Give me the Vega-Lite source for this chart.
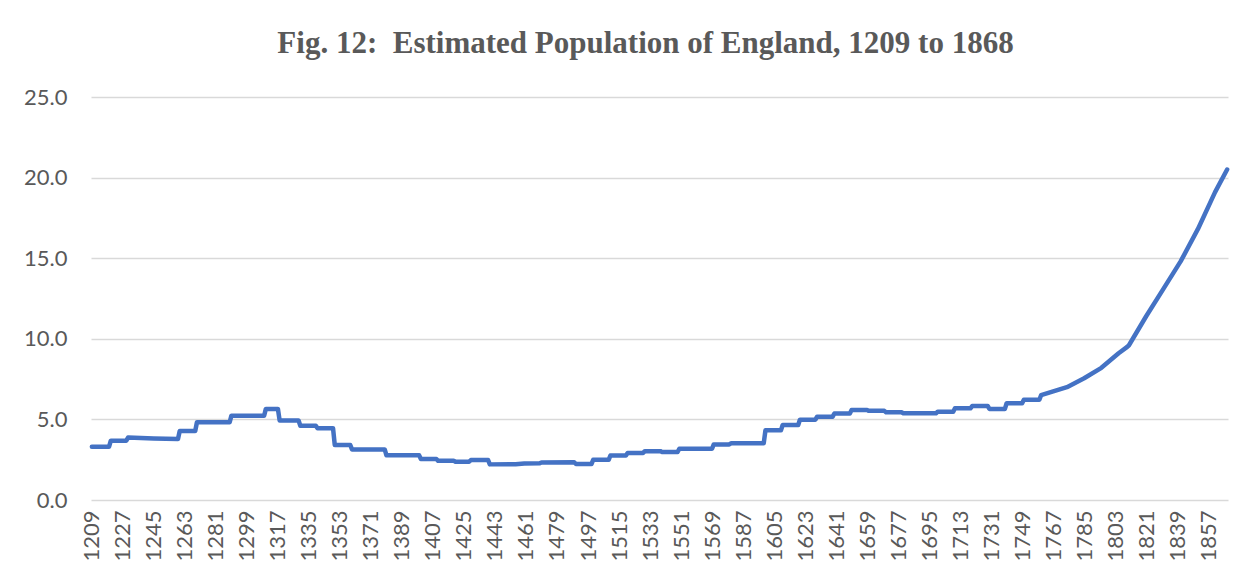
{
  "$schema": "https://vega.github.io/schema/vega-lite/v6.json",
  "autosize": {"type": "none"},
  "width": 1137,
  "height": 403,
  "padding": {"left": 91, "top": 97, "right": 29, "bottom": 80},
  "background": "white",
  "title": {
    "text": "Fig. 12:\u00a0 Estimated Population of England, 1209 to 1868",
    "font": "Liberation Serif",
    "fontSize": 31,
    "fontWeight": "bold",
    "color": "#595959",
    "anchor": "middle",
    "frame": "group",
    "dx": -14,
    "offset": 26
  },
  "config": {
    "view": {"stroke": null},
    "axis": {"labelFont": "Lato", "labelColor": "#595959"}
  },
  "data": {
    "values": [
      {"year": 1209, "pop": 3.31}, {"year": 1219, "pop": 3.31},
      {"year": 1220, "pop": 3.68}, {"year": 1229, "pop": 3.68},
      {"year": 1230, "pop": 3.87}, {"year": 1245, "pop": 3.82}, {"year": 1259, "pop": 3.78},
      {"year": 1260, "pop": 4.28}, {"year": 1269, "pop": 4.28},
      {"year": 1270, "pop": 4.82}, {"year": 1289, "pop": 4.82},
      {"year": 1290, "pop": 5.23}, {"year": 1309, "pop": 5.23},
      {"year": 1310, "pop": 5.65}, {"year": 1317, "pop": 5.65},
      {"year": 1318, "pop": 4.93}, {"year": 1329, "pop": 4.93},
      {"year": 1330, "pop": 4.61}, {"year": 1339, "pop": 4.61},
      {"year": 1340, "pop": 4.45}, {"year": 1349, "pop": 4.45},
      {"year": 1350, "pop": 3.41}, {"year": 1359, "pop": 3.41},
      {"year": 1360, "pop": 3.14}, {"year": 1379, "pop": 3.14},
      {"year": 1380, "pop": 2.77}, {"year": 1399, "pop": 2.77},
      {"year": 1400, "pop": 2.54}, {"year": 1409, "pop": 2.54},
      {"year": 1410, "pop": 2.43}, {"year": 1419, "pop": 2.43},
      {"year": 1420, "pop": 2.38}, {"year": 1428, "pop": 2.38},
      {"year": 1429, "pop": 2.48}, {"year": 1439, "pop": 2.48},
      {"year": 1440, "pop": 2.21}, {"year": 1455, "pop": 2.22},
      {"year": 1460, "pop": 2.27}, {"year": 1469, "pop": 2.28},
      {"year": 1470, "pop": 2.33}, {"year": 1489, "pop": 2.34},
      {"year": 1490, "pop": 2.23}, {"year": 1499, "pop": 2.23},
      {"year": 1500, "pop": 2.49}, {"year": 1509, "pop": 2.49},
      {"year": 1510, "pop": 2.76}, {"year": 1519, "pop": 2.76},
      {"year": 1520, "pop": 2.92}, {"year": 1529, "pop": 2.92},
      {"year": 1530, "pop": 3.03}, {"year": 1539, "pop": 3.03},
      {"year": 1540, "pop": 2.98}, {"year": 1549, "pop": 2.98},
      {"year": 1550, "pop": 3.18}, {"year": 1569, "pop": 3.18},
      {"year": 1570, "pop": 3.45}, {"year": 1579, "pop": 3.45},
      {"year": 1580, "pop": 3.52}, {"year": 1599, "pop": 3.52},
      {"year": 1600, "pop": 4.32}, {"year": 1609, "pop": 4.32},
      {"year": 1610, "pop": 4.65}, {"year": 1619, "pop": 4.65},
      {"year": 1620, "pop": 4.98}, {"year": 1629, "pop": 4.98},
      {"year": 1630, "pop": 5.17}, {"year": 1639, "pop": 5.17},
      {"year": 1640, "pop": 5.37}, {"year": 1649, "pop": 5.37},
      {"year": 1650, "pop": 5.58}, {"year": 1659, "pop": 5.58},
      {"year": 1660, "pop": 5.53}, {"year": 1669, "pop": 5.53},
      {"year": 1670, "pop": 5.44}, {"year": 1679, "pop": 5.44},
      {"year": 1680, "pop": 5.38}, {"year": 1699, "pop": 5.38},
      {"year": 1700, "pop": 5.48}, {"year": 1709, "pop": 5.48},
      {"year": 1710, "pop": 5.69}, {"year": 1719, "pop": 5.69},
      {"year": 1720, "pop": 5.83}, {"year": 1729, "pop": 5.83},
      {"year": 1730, "pop": 5.65}, {"year": 1739, "pop": 5.65},
      {"year": 1740, "pop": 6.0}, {"year": 1749, "pop": 6.0},
      {"year": 1750, "pop": 6.22}, {"year": 1759, "pop": 6.22},
      {"year": 1760, "pop": 6.5}, {"year": 1775, "pop": 7.0},
      {"year": 1785, "pop": 7.55}, {"year": 1795, "pop": 8.2},
      {"year": 1805, "pop": 9.1}, {"year": 1810, "pop": 9.5},
      {"year": 1811, "pop": 9.6}, {"year": 1821, "pop": 11.4},
      {"year": 1831, "pop": 13.1}, {"year": 1841, "pop": 14.8},
      {"year": 1851, "pop": 16.8}, {"year": 1861, "pop": 19.1},
      {"year": 1868, "pop": 20.5}
    ]
  },
  "mark": {
    "type": "line",
    "color": "#4472C4",
    "strokeWidth": 4.5,
    "strokeJoin": "round",
    "strokeCap": "round"
  },
  "encoding": {
    "x": {
      "field": "year",
      "type": "quantitative",
      "scale": {"domain": [1208.5, 1868.5], "nice": false, "zero": false},
      "axis": {
        "title": null,
        "values": [1209,1227,1245,1263,1281,1299,1317,1335,1353,1371,1389,1407,1425,1443,1461,1479,1497,1515,1533,1551,1569,1587,1605,1623,1641,1659,1677,1695,1713,1731,1749,1767,1785,1803,1821,1839,1857],
        "format": "d",
        "labelAngle": -90,
        "labelFontSize": 22,
        "labelPadding": 10,
        "labelFlush": false,
        "labelOverlap": false,
        "ticks": false,
        "domain": false,
        "grid": false
      }
    },
    "y": {
      "field": "pop",
      "type": "quantitative",
      "scale": {"domain": [0, 25], "nice": false},
      "axis": {
        "title": null,
        "values": [0, 5, 10, 15, 20, 25],
        "format": ".1f",
        "labelFontSize": 22,
        "labelPadding": 24,
        "ticks": false,
        "domain": false,
        "grid": true,
        "gridColor": "#D9D9D9",
        "gridWidth": 1.3
      }
    }
  }
}
